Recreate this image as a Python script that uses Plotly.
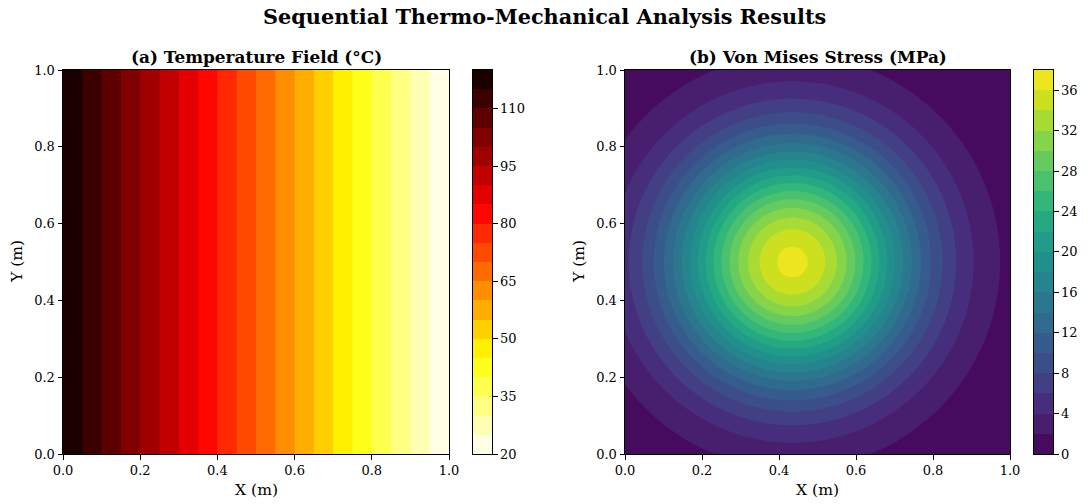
import numpy as np
import plotly.graph_objects as go

W, H = 1089, 504

# ---------------- data ----------------
grid_x = np.linspace(0.0, 1.0, 50)
grid_y = np.linspace(0.0, 1.0, 50)

temp_node_x = [0.0, 1.0]          # m
temp_node_val = [120.0, 20.0]     # degC (hot left edge, cool right edge)
temp_levels = [20, 25, 30, 35, 40, 45, 50, 55, 60, 65, 70, 75, 80, 85, 90, 95, 100, 105, 110, 115, 120]
temp_ticks = [20, 35, 50, 65, 80, 95, 110]

stress_peak = 36.6                # MPa
stress_center_x = 0.435           # m
stress_center_y = 0.5             # m
stress_spread = 0.10              # m^2  (2*sigma^2)
stress_levels = [0, 2, 4, 6, 8, 10, 12, 14, 16, 18, 20, 22, 24, 26, 28, 30, 32, 34, 36, 38]
stress_ticks = [0, 4, 8, 12, 16, 20, 24, 28, 32, 36]

axis_ticks = [0.0, 0.2, 0.4, 0.6, 0.8, 1.0]

# ---------------- fields ----------------
GX, GY = np.meshgrid(grid_x, grid_y)
temp_field = np.interp(GX.ravel(), temp_node_x, temp_node_val).reshape(GX.shape)
stress_field = stress_peak * np.exp(-((GX - stress_center_x) ** 2 + (GY - stress_center_y) ** 2) / stress_spread)

# ---------------- colours ----------------
def hot(t):
    r = min(max(0.0416 + (1 - 0.0416) * t / 0.365079, 0), 1)
    g = min(max((t - 0.365079) / (0.746032 - 0.365079), 0), 1)
    b = min(max((t - 0.746032) / (1 - 0.746032), 0), 1)
    return "rgb(%d,%d,%d)" % (round(r * 255), round(g * 255), round(b * 255))

n_t = len(temp_levels) - 1
temp_colors = [hot(1 - (k + 0.5) / n_t) for k in range(n_t)]

viridis20 = ["#440154", "#481567", "#482677", "#453781", "#3F4788", "#39558C", "#32648E",
             "#2D718E", "#287D8E", "#238A8D", "#1F968B", "#20A386", "#29AF7F", "#3CBC75",
             "#56C667", "#75D054", "#95D840", "#BADE28", "#DDE318", "#FDE725"]

def hex2rgb(h):
    h = h.lstrip("#")
    return [int(h[i:i + 2], 16) for i in (0, 2, 4)]

n_s = len(stress_levels) - 1
stress_colors = []
for k in range(n_s):
    a, b = hex2rgb(viridis20[k]), hex2rgb(viridis20[k + 1])
    stress_colors.append("rgb(%d,%d,%d)" % tuple(round((a[i] + b[i]) / 2) for i in range(3)))

def contour_scale(cols):
    nc = len(cols)
    pts = [cols[0]] + cols
    sc = []
    for j, c in enumerate(pts):
        lo = max(0.0, (j - 0.5) / nc)
        hi = min(1.0, (j + 0.5) / nc)
        sc.append([lo, c])
        sc.append([hi, c])
    return sc

def bar_scale(cols):
    n = len(cols)
    sc = []
    for j, c in enumerate(cols):
        sc.append([j / n, c])
        sc.append([(j + 1) / n, c])
    return sc

# ---------------- geometry (pixels) ----------------
def fx(px):
    return px / W

def fy(py):
    return 1 - py / H

TOP, BOT = 70, 454
L_AX = (63, 449)
L_CB = (473, 492)
R_AX = (625, 1010)
R_CB = (1034, 1053)

FONT = "DejaVu Serif"
TICKF = dict(family=FONT, size=13, color="black")

fig = go.Figure()

fig.add_trace(go.Contour(
    x=grid_x, y=grid_y, z=temp_field, autocontour=False,
    contours=dict(start=temp_levels[0], end=temp_levels[-2], size=temp_levels[1] - temp_levels[0],
                  coloring="fill", showlines=False),
    line=dict(width=0), colorscale=contour_scale(temp_colors), showscale=False,
    hoverinfo="skip", xaxis="x", yaxis="y"))

fig.add_trace(go.Heatmap(
    x=[0], y=[(temp_levels[k] + temp_levels[k + 1]) / 2 for k in range(n_t)],
    z=[[k] for k in range(n_t)], zmin=-0.5, zmax=n_t - 0.5,
    colorscale=bar_scale(temp_colors), showscale=False, hoverinfo="skip",
    xaxis="x2", yaxis="y2"))

fig.add_trace(go.Contour(
    x=grid_x, y=grid_y, z=stress_field, autocontour=False,
    contours=dict(start=stress_levels[0], end=stress_levels[-2], size=stress_levels[1] - stress_levels[0],
                  coloring="fill", showlines=False),
    line=dict(width=0), colorscale=contour_scale(stress_colors), showscale=False,
    hoverinfo="skip", xaxis="x3", yaxis="y3"))

fig.add_trace(go.Heatmap(
    x=[0], y=[(stress_levels[k] + stress_levels[k + 1]) / 2 for k in range(n_s)],
    z=[[k] for k in range(n_s)], zmin=-0.5, zmax=n_s - 0.5,
    colorscale=bar_scale(stress_colors), showscale=False, hoverinfo="skip",
    xaxis="x4", yaxis="y4"))

main_ax = dict(range=[0, 1], tickvals=axis_ticks, ticktext=["%.1f" % v for v in axis_ticks],
               ticks="outside", ticklen=4.5, tickwidth=1, tickcolor="black",
               showline=True, linecolor="black", linewidth=1, mirror=True,
               showgrid=False, zeroline=False, tickfont=TICKF, automargin=False)

cb_x = dict(range=[-0.5, 0.5], showticklabels=False, ticks="", showgrid=False, zeroline=False,
            showline=True, linecolor="black", linewidth=1, mirror=True, automargin=False)

def cb_y(levels, ticks, anchor):
    return dict(range=[levels[0], levels[-1]], tickvals=ticks, side="right", anchor=anchor,
                ticks="outside", ticklen=4.5, tickwidth=1, tickcolor="black",
                showline=True, linecolor="black", linewidth=1, mirror=True,
                showgrid=False, zeroline=False, tickfont=TICKF, automargin=False)

fig.update_layout(
    width=W, height=H, margin=dict(l=0, r=0, t=0, b=0, autoexpand=False),
    paper_bgcolor="white", plot_bgcolor="white", showlegend=False,
    xaxis=dict(domain=[fx(L_AX[0]), fx(L_AX[1])], anchor="y", **main_ax),
    yaxis=dict(domain=[fy(BOT), fy(TOP)], anchor="x", **main_ax),
    xaxis2=dict(domain=[fx(L_CB[0]), fx(L_CB[1])], anchor="y2", **cb_x),
    yaxis2=dict(domain=[fy(BOT), fy(TOP)], **cb_y(temp_levels, temp_ticks, "x2")),
    xaxis3=dict(domain=[fx(R_AX[0]), fx(R_AX[1])], anchor="y3", **main_ax),
    yaxis3=dict(domain=[fy(BOT), fy(TOP)], anchor="x3", **main_ax),
    xaxis4=dict(domain=[fx(R_CB[0]), fx(R_CB[1])], anchor="y4", **cb_x),
    yaxis4=dict(domain=[fy(BOT), fy(TOP)], **cb_y(stress_levels, stress_ticks, "x4")),
)

def ann(text, px, py, size, bold=False, angle=0):
    fig.add_annotation(text=("<b>%s</b>" % text) if bold else text,
                       x=fx(px), y=fy(py), xref="paper", yref="paper",
                       showarrow=False, xanchor="center", yanchor="middle", textangle=angle,
                       font=dict(family=FONT, size=size, color="black"))

ann("Sequential Thermo-Mechanical Analysis Results", W / 2, 17, 20.8, bold=True)
ann("(a) Temperature Field (°C)", (L_AX[0] + L_AX[1]) / 2, 57, 16.9, bold=True)
ann("(b) Von Mises Stress (MPa)", (R_AX[0] + R_AX[1]) / 2, 57, 16.9, bold=True)
ann("X (m)", (L_AX[0] + L_AX[1]) / 2, 490, 15.6)
ann("X (m)", (R_AX[0] + R_AX[1]) / 2, 490, 15.6)
ann("Y (m)", 17, (TOP + BOT) / 2, 15.6, angle=-90)
ann("Y (m)", 579, (TOP + BOT) / 2, 15.6, angle=-90)

fig.write_html("out.html", config={"displayModeBar": False},
               post_script="document.body.style.margin='0';document.body.style.padding='0';")
